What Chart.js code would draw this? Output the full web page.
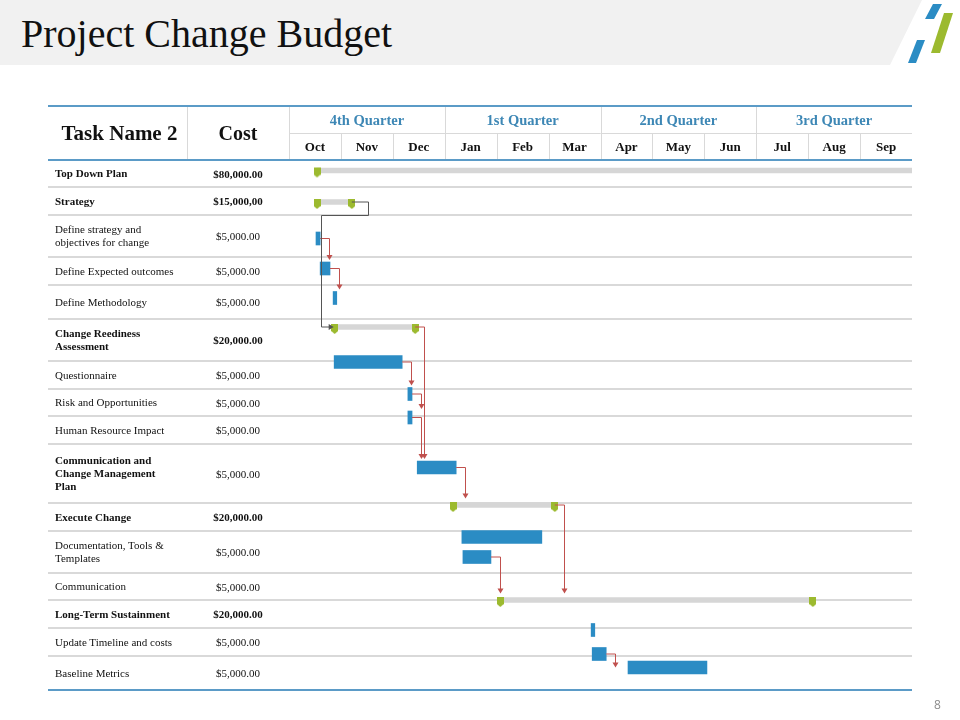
<!DOCTYPE html>
<html>
<head>
<meta charset="utf-8">
<script src="https://cdn.jsdelivr.net/npm/chart.js@4.4.1/dist/chart.umd.min.js"></script>
<style>
  html, body { margin: 0; padding: 0; background: #fff; }
  #page { position: relative; width: 960px; height: 720px; overflow: hidden; font-family: "Liberation Serif", serif; }
  #titleBar { position: absolute; left: 0; top: 0; width: 925px; height: 65px; background: #f1f1f1;
              clip-path: polygon(0 0, 922px 0, 890px 65px, 0 65px); }
  #title { position: absolute; left: 21px; top: 10px; font-size: 40px; color: #111; white-space: nowrap; }
  #logo { position: absolute; left: 0; top: 0; }
  canvas { position: absolute; left: 0; top: 0; }
  .cell { position: absolute; display: flex; align-items: center; white-space: pre-line; color: #111; }
  .pageNo { position: absolute; left: 934px; top: 696px; font: 12px "Open Sans", sans-serif; color: #8c8c8c; }
</style>
</head>
<body>
<div id="page">
  <div id="titleBar"></div>
  <div id="title">Project Change Budget</div>
  <svg id="logo" width="960" height="70">
    <polygon points="933,4 942,4 934,19 925,19" fill="#2b8cc4"/>
    <polygon points="944,13 953,13 940,53 931,53" fill="#9cba2f"/>
    <polygon points="917,40 925,40 916,63 908,63" fill="#2b8cc4"/>
  </svg>
  <canvas id="gantt" width="960" height="720"></canvas>
  <div class="pageNo">8</div>
</div>
<script>
// 표 데이터
const months = ["Oct", "Nov", "Dec", "Jan", "Feb", "Mar", "Apr", "May", "Jun", "Jul", "Aug", "Sep"];
const quarters = ["4th Quarter", "1st Quarter", "2nd Quarter", "3rd Quarter"];
const taskNames = [
  "Top Down Plan", "Strategy", "Define strategy and\nobjectives for change", "Define Expected outcomes",
  "Define Methodology", "Change Reediness\nAssessment", "Questionnaire", "Risk and Opportunities",
  "Human Resource Impact", "Communication and\nChange Management\nPlan", "Execute Change",
  "Documentation, Tools &\nTemplates", "Communication", "Long-Term Sustainment",
  "Update Timeline and costs", "Baseline Metrics"
];
const taskCosts = [
  "$80,000.00", "$15,000,00", "$5,000.00", "$5,000.00", "$5,000.00", "$20,000.00", "$5,000.00", "$5,000.00",
  "$5,000.00", "$5,000.00", "$20,000.00", "$5,000.00", "$5,000.00", "$20,000.00", "$5,000.00", "$5,000.00"
];
const boldName = [1, 1, 0, 0, 0, 1, 0, 0, 0, 1, 1, 0, 0, 1, 0, 0];
const boldCost = [1, 1, 0, 0, 0, 1, 0, 0, 0, 0, 1, 0, 0, 1, 0, 0];
// 행 높이 (y축 단위)
const rowSpan = [27, 28, 42, 28, 34, 42, 28, 27, 28, 59, 28, 42, 27, 28, 28, 34];

// 요약 막대 (월 단위, Oct = 0)
const summaryStart = [0.54, 0.54, 0.88, 3.16, 4.07];
const summaryEnd = [12, 1.21, 2.43, 5.12, 10.09];
const summaryLane = [10.5, 42, 167, 345, 440];

// 작업 막대
const taskStart = [0.52, 0.60, 0.85, 0.87, 2.29, 2.29, 2.47, 3.33, 3.35, 5.82, 5.84, 6.53];
const taskEnd = [0.60, 0.79, 0.92, 2.18, 2.37, 2.37, 3.22, 4.87, 3.89, 5.89, 6.11, 8.05];
const taskLane = [78.5, 108.5, 138, 202, 234, 257.5, 307.5, 377, 397, 470, 494, 507.5];

// 선후행 연결 (S = 요약, T = 작업)
const links = [
  ["T0", "T1"], ["T1", "T2"], ["S1", "S2", "loop"], ["T3", "T4"], ["T4", "T5"], ["T5", "T6"],
  ["S2", "T6"], ["T6", "S3"], ["S3", "S4"], ["T8", "S4"], ["T10", "T11"]
];

const BLUE = "#2b8cc4";
const GREEN = "#9cba2f";
const LINE = "#d9d9d9";
const HEAD_BLUE = "#5b9bc7";

// 마일스톤 모양
function makeMarker() {
  const c = document.createElement("canvas");
  c.width = 7; c.height = 16;
  const g = c.getContext("2d");
  g.fillStyle = GREEN;
  g.beginPath();
  g.moveTo(0, 5); g.lineTo(7, 5); g.lineTo(7, 12); g.lineTo(3.5, 15); g.lineTo(0, 12);
  g.closePath(); g.fill();
  return c;
}

const markerData = [];
summaryStart.forEach((s, i) => {
  markerData.push({ x: s, y: summaryLane[i] });
  if (summaryEnd[i] < 12) markerData.push({ x: summaryEnd[i], y: summaryLane[i] });
});

const tableLines = {
  id: "tableLines",
  beforeDatasetsDraw(chart) {
    const { ctx, scales: { x, y } } = chart;
    const left = 48, right = x.getPixelForValue(12), x0 = x.getPixelForValue(0);
    const top = 106, mid = 133, head = y.getPixelForValue(0);
    const line = (a, b, c, d) => { ctx.beginPath(); ctx.moveTo(a, b); ctx.lineTo(c, d); ctx.stroke(); };
    ctx.save();
    ctx.strokeStyle = LINE;
    ctx.lineWidth = 2;
    let acc = 0;
    rowSpan.forEach((h, i) => {
      acc += h;
      if (i < rowSpan.length - 1) line(left, y.getPixelForValue(acc), right, y.getPixelForValue(acc));
    });
    ctx.lineWidth = 1;
    line(x0, mid + 0.5, right, mid + 0.5);
    [187.5, 289.5].forEach(px => line(px, top, px, head));
    for (let m = 1; m < 12; m++) {
      const px = Math.round(x.getPixelForValue(m)) + 0.5;
      line(px, m % 3 === 0 ? top : mid, px, head);
    }
    ctx.strokeStyle = HEAD_BLUE;
    ctx.lineWidth = 2;
    line(left, top, right, top);
    line(left, head, right, head);
    const bottom = y.getPixelForValue(rowSpan.reduce((a, b) => a + b, 0));
    line(left, bottom, right, bottom);
    ctx.restore();
  }
};

const linkArrows = {
  id: "linkArrows",
  afterDatasetsDraw(chart) {
    const ctx = chart.ctx;
    const box = id => {
      const el = chart.getDatasetMeta(id[0] === "S" ? 1 : 2).data[+id.slice(1)];
      return { l: Math.min(el.x, el.base), r: Math.max(el.x, el.base), y: el.y, h: el.height, s: id[0] === "S" };
    };
    ctx.save();
    ctx.lineWidth = 1;
    links.forEach(([from, to, kind]) => {
      const a = box(from), b = box(to);
      const col = kind === "loop" ? "#555555" : "#c0504d";
      ctx.strokeStyle = col;
      ctx.fillStyle = col;
      ctx.beginPath();
      if (kind === "loop") {
        const ex = Math.round(a.r + 16) + 0.5, ey = Math.round(a.y + 13) + 0.5, lx = Math.round(b.l - 14) + 0.5;
        ctx.moveTo(a.r, a.y); ctx.lineTo(ex, a.y); ctx.lineTo(ex, ey); ctx.lineTo(lx, ey);
        ctx.lineTo(lx, b.y); ctx.lineTo(b.l - 5, b.y); ctx.stroke();
        ctx.beginPath(); ctx.moveTo(b.l - 1, b.y); ctx.lineTo(b.l - 6, b.y - 3); ctx.lineTo(b.l - 6, b.y + 3); ctx.fill();
      } else {
        const ax = Math.round(a.r + 9) + 0.5;
        const ty = ax < b.l ? b.y : b.y - b.h / 2 - (b.s ? 4 : 2);
        ctx.moveTo(a.r, a.y); ctx.lineTo(ax, a.y); ctx.lineTo(ax, ty - 4); ctx.stroke();
        ctx.beginPath(); ctx.moveTo(ax, ty); ctx.lineTo(ax - 3, ty - 5); ctx.lineTo(ax + 3, ty - 5); ctx.fill();
      }
    });
    ctx.restore();
  }
};

const chart = new Chart(document.getElementById("gantt"), {
  type: "bar",
  data: {
    datasets: [
      {
        type: "scatter",
        label: "Milestones",
        data: markerData,
        pointStyle: makeMarker(),
        pointRadius: 5
      },
      {
        label: "Summary",
        data: summaryStart.map((s, i) => ({ x: [s, summaryEnd[i]], y: summaryLane[i] })),
        backgroundColor: "#d6d6d6",
        barThickness: 5,
        grouped: false
      },
      {
        label: "Tasks",
        data: taskStart.map((s, i) => ({ x: [s, taskEnd[i]], y: taskLane[i] })),
        backgroundColor: BLUE,
        barThickness: 13,
        grouped: false
      }
    ]
  },
  options: {
    indexAxis: "y",
    responsive: false,
    devicePixelRatio: 1,
    animation: false,
    layout: { padding: { left: 289, right: 48, top: 160, bottom: 30 } },
    scales: {
      x: { type: "linear", min: 0, max: 12, display: false, offset: false },
      y: { type: "linear", min: 0, max: 530, reverse: true, display: false, offset: false }
    },
    plugins: { legend: { display: false }, tooltip: { enabled: false } }
  },
  plugins: [tableLines, linkArrows]
});

// 표 텍스트 배치
function addCell(text, left, top, width, height, style) {
  const d = document.createElement("div");
  d.className = "cell";
  d.textContent = text;
  Object.assign(d.style, { left: left + "px", top: top + "px", width: width + "px", height: height + "px" }, style);
  document.getElementById("page").appendChild(d);
}

const xs = chart.scales.x, ys = chart.scales.y;
let acc = 0;
taskNames.forEach((name, i) => {
  const top = ys.getPixelForValue(acc), bottom = ys.getPixelForValue(acc + rowSpan[i]);
  addCell(name, 55, top, 130, bottom - top, { font: (boldName[i] ? "bold " : "") + "11px 'Liberation Serif'", lineHeight: "13px" });
  addCell(taskCosts[i], 187, top, 102, bottom - top, { font: (boldCost[i] ? "bold " : "") + "11px 'Liberation Serif'", justifyContent: "center" });
  acc += rowSpan[i];
});

addCell("Task Name 2", 50, 106, 139, 54, { font: "bold 21px 'Liberation Serif'", justifyContent: "center" });
addCell("Cost", 187, 106, 102, 54, { font: "bold 20px 'Liberation Serif'", justifyContent: "center" });
quarters.forEach((q, i) => {
  const l = xs.getPixelForValue(i * 3), r = xs.getPixelForValue(i * 3 + 3);
  addCell(q, l, 107, r - l, 27, { font: "bold 14.5px 'Liberation Serif'", color: "#3d87b5", justifyContent: "center" });
});
months.forEach((m, i) => {
  const l = xs.getPixelForValue(i), r = xs.getPixelForValue(i + 1);
  addCell(m, l, 133, r - l, 27, { font: "bold 13px 'Liberation Serif'", justifyContent: "center" });
});
</script>
</body>
</html>
